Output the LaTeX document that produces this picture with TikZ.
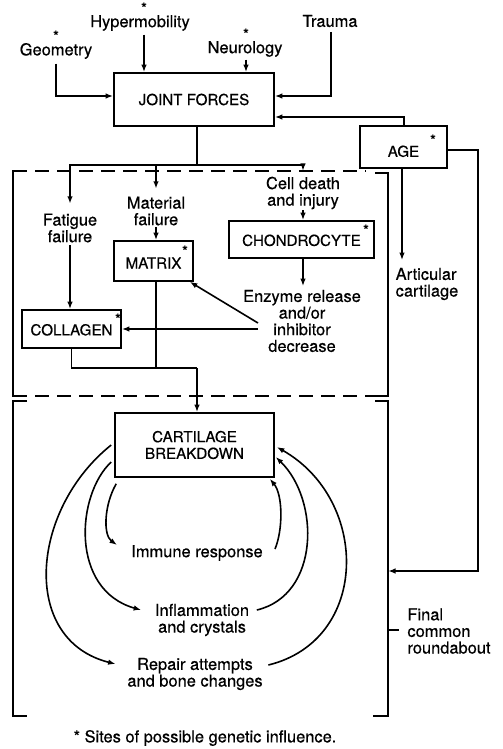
\documentclass[tikz,border=0pt]{standalone}
\usepackage{fontspec}
\setmainfont{TeX Gyre Heros}[FakeBold=0.5]
\usetikzlibrary{arrows.meta}
\begin{document}
\begin{tikzpicture}[x=1bp,y=-1bp,line width=1.6bp,
  arr/.style={-{Latex[length=7.5bp,width=5.5bp]}},
  lbl/.style={font=\fontsize{16.5}{16.7}\selectfont,align=center,inner sep=0pt},
  lbll/.style={font=\fontsize{16.5}{16.7}\selectfont,align=left,inner sep=0pt},
  box/.style={draw,font=\fontsize{15.2}{16.7}\selectfont,align=center,inner sep=0pt},
  ast/.style={font=\fontsize{15}{15}\selectfont,inner sep=0pt},
  dsh/.style={dash pattern=on 14bp off 8bp}]
\useasboundingbox (0,0) rectangle (503,749);

% top inputs
\node[lbl] (geo) at (56,51) {Geometry};
\node[ast] (sgeo) at (56,36) {*};
\node[lbl] (hyp) at (140,23) {Hypermobility};
\node[ast] (shyp) at (144,8) {*};
\node[lbl] (neu) at (245,49) {Neurology};
\node[ast] (sneu) at (246,34) {*};
\node[lbl] (tra) at (330,21) {Trauma};

\node[box,minimum width=160bp,minimum height=53bp] (jf) at (194,99.5) {JOINT FORCES};
\node[box,minimum width=87bp,minimum height=42bp,text height=20bp] (age) at (403.5,147) {AGE};
\node[ast] (sage) at (433,140) {*};
\node[lbll] (art) at (427,284) {Articular\\cartilage};

\draw[arr] ([yshift=-4bp]geo.south) |- (jf.west |- 0,96);
\draw[arr] ([yshift=-3bp]hyp.south -| shyp) -- (jf.north -| shyp);
\draw[arr] ([yshift=-2bp]neu.south -| sneu) -- (jf.north -| sneu);
\draw[arr] ([xshift=1bp,yshift=-4bp]tra.south) |- (jf.east |- 0,96);
\draw[arr] (age.north -| 404,0) |- (jf.east |- 0,117);
\draw[arr] (age.south -| 402,0) -- ([yshift=7bp]art.north -| 402,0);
\coordinate (rb) at (388,571);
\draw[arr] (age.east |- 0,150) -| (478,571) -- (rb);

% first bracket box
\draw (20,171) -- (13,171) -- (13,396) -- (20,396);
\draw[dsh] (13,171) -- (366,171);
\draw (375,173) -- (388,173) -- (388,396) -- (375,396);
\draw[dsh] (13,396) -- (376,396);

\node[lbl] (fat) at (70,228) {Fatigue\\failure};
\node[lbl] (mat) at (156,211) {Material\\failure};
\node[lbl] (cell) at (303,193) {Cell death\\and injury};
\node[box,minimum width=145bp,minimum height=37bp,text height=13bp] (chon) at (301.5,239.5) {CHONDROCYTE};
\node[ast] (schon) at (366,230) {*};
\node[box,minimum width=79bp,minimum height=40bp,text height=15bp] (mtx) at (153.5,261) {MATRIX};
\node[ast] (smtx) at (185,251) {*};
\node[box,minimum width=99bp,minimum height=38bp,text height=13bp] (col) at (71.5,329) {COLLAGEN};
\node[ast] (scol) at (118,319) {*};
\node[lbl] (enz) at (302,321) {Enzyme release\\and/or\\inhibitor\\decrease};

\coordinate (split) at (197,165);
\draw (jf.south -| split) -- (split);
\draw[arr] (split) -| ([yshift=9bp]fat.north);
\draw[arr] (split) -| ([yshift=7bp]mat.north);
\draw[arr] (split) -| ([yshift=5bp]cell.north);
\draw[arr] ([yshift=-2bp]fat.south) -- (fat.south |- col.north);
\draw[arr] ([yshift=-1bp]mat.south) -- (mat.south |- mtx.north);
\draw[arr] (cell.south) -- (cell.south |- chon.north);
\draw[arr] (chon.south -| cell) -- ([yshift=3bp]enz.north -| cell);
\coordinate (ez1) at (258,329);
\coordinate (ez2) at (258,323);
\draw[arr] (ez1) -- (col.east |- ez1);
\draw[arr] (ez2) -- ([xshift=-4bp]mtx.south east);
\coordinate (j) at (197,368);
\draw (col.south) |- (j);
\draw (mtx.south -| 156,0) -- (156,368);
\node[box,minimum width=159bp,minimum height=64bp] (cb) at (194.5,445) {CARTILAGE\\BREAKDOWN};
\draw[arr] (j) -- (cb.north -| j);

% second bracket box
\draw (27,401) -- (13,401) -- (13,716) -- (27,716);
\draw (375,401) -- (388,401) -- (388,716) -- (373,716);
\node[lbll] (fin) at (449,631) {Final\\common\\roundabout};
\draw (388,630) -- ([xshift=-8bp]fin.west |- 0,630);

\node[lbl] (imm) at (197,553) {Immune response};
\node[lbl] (inf) at (202,620) {Inflammation\\and crystals};
\node[lbl] (rep) at (195,674) {Repair attempts\\and bone changes};

\draw[arr] ([shift={(2,6)}]cb.south west) .. controls (104,505) and (103,535) .. ([shift={(-13.5,-8)}]imm.west);
\draw[arr] ([shift={(11.5,-4)}]imm.east) .. controls (283,530) and (283,495) .. ([shift={(-5,1)}]cb.south east);
\draw[arr] ([shift={(-3,17)}]cb.west) .. controls (76,495) and (70,590) .. ([shift={(-13,-10)}]inf.west);
\draw[arr] ([shift={(7,-10)}]inf.east) .. controls (320,595) and (320,500) .. ([shift={(1,12)}]cb.east);
\draw[arr] ([shift={(-3,0)}]cb.west) .. controls (30,510) and (20,640) .. ([shift={(-11,-10)}]rep.west);
\draw[arr] ([shift={(5,-9)}]rep.east) .. controls (370,640) and (370,500) .. ([shift={(2,2)}]cb.east);

\node[lbl] (note) at (205,738) {* Sites of possible genetic influence.};
\end{tikzpicture}
\end{document}
